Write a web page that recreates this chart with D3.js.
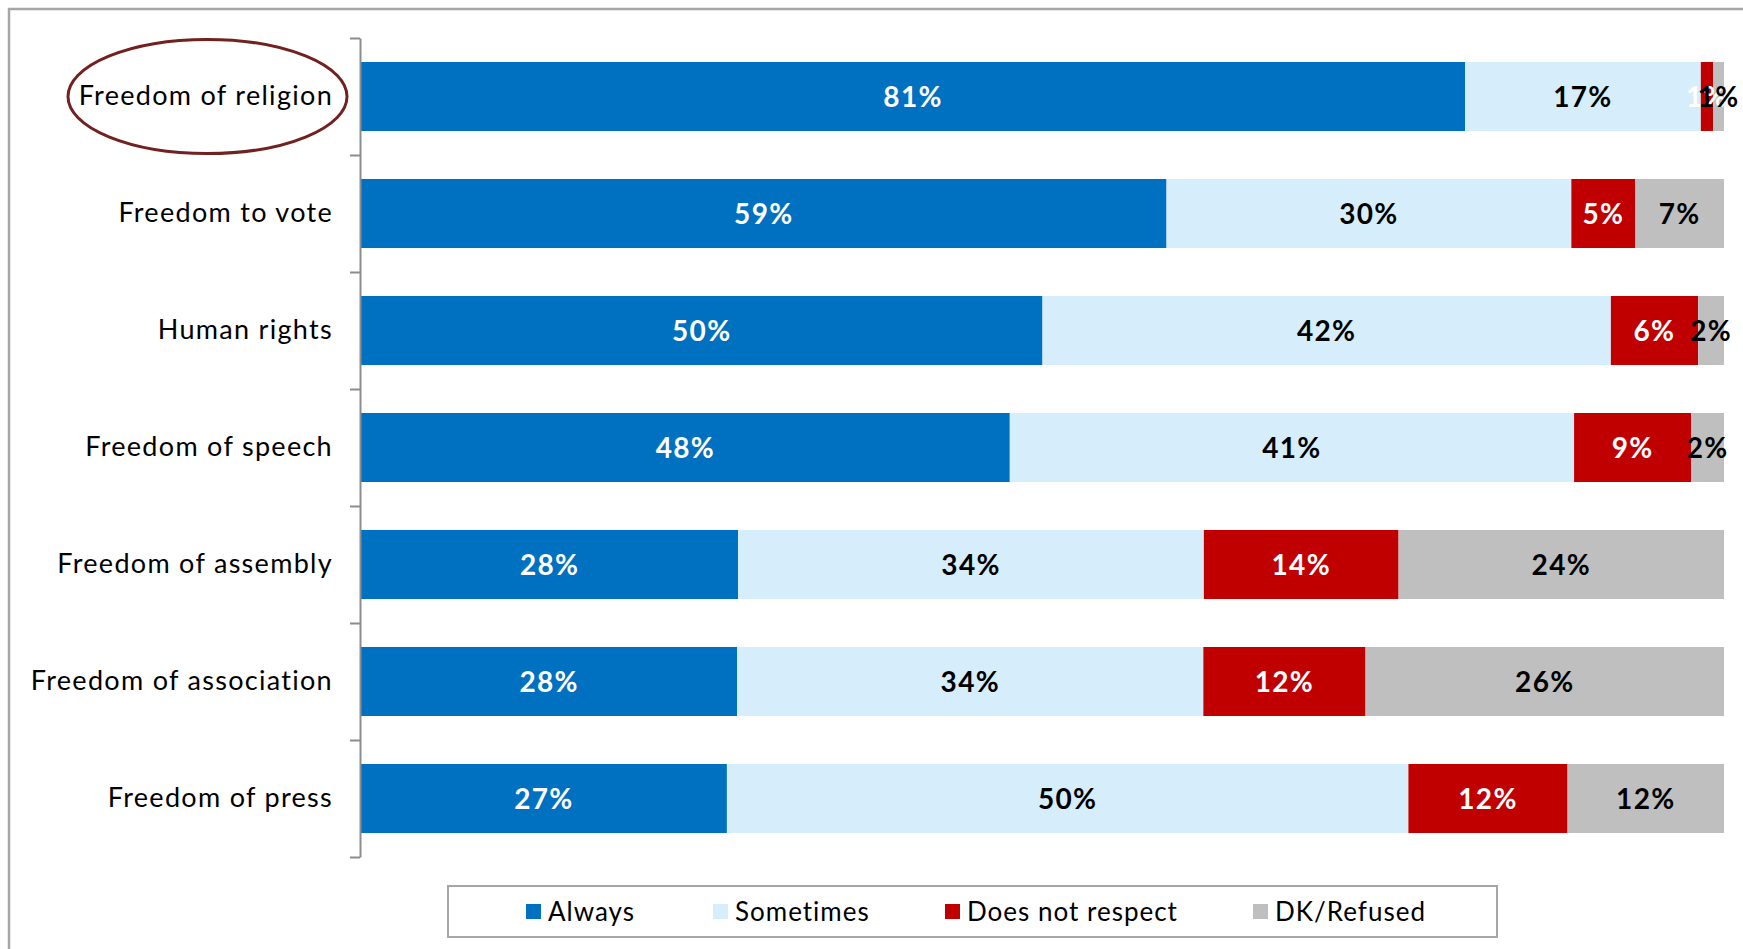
<!DOCTYPE html>
<html>
<head>
<meta charset="utf-8">
<script src="https://cdn.jsdelivr.net/npm/d3@7"></script>
<style>
  html, body { margin: 0; padding: 0; background: #ffffff; }
  svg { display: block; }
  text { font-family: Lato, "Open Sans", sans-serif; }
</style>
</head>
<body>
<svg id="chart" width="1743" height="949"></svg>
<script>
const categories = ["Freedom of religion", "Freedom to vote", "Human rights", "Freedom of speech", "Freedom of assembly", "Freedom of association", "Freedom of press"];
const seriesNames = ["Always", "Sometimes", "Does not respect", "DK/Refused"];
const always     = [81, 59.1, 50, 47.6, 27.7, 27.6, 26.9];
const sometimes  = [17.3, 29.7, 41.7, 41.4, 34.2, 34.2, 50.1];
const notRespect = [0.9, 4.7, 6.4, 8.6, 14.3, 11.9, 11.7];
const dkRefused  = [0.8, 6.5, 1.9, 2.4, 23.9, 26.3, 11.5];
const highlighted = "Freedom of religion";

const colors = ["#0070C0", "#D6EEFB", "#C00000", "#BFBFBF"];
const labelColors = ["#ffffff", "#000000", "#ffffff", "#000000"];

const rows = categories.map((c, i) => ({
  category: c,
  "Always": always[i],
  "Sometimes": sometimes[i],
  "Does not respect": notRespect[i],
  "DK/Refused": dkRefused[i]
}));

const svg = d3.select("#chart");

// outer frame (only top and left edges visible)
svg.append("rect")
  .attr("x", 9).attr("y", 9).attr("width", 3000).attr("height", 3000)
  .attr("fill", "none").attr("stroke", "#A6A6A6").attr("stroke-width", 2.5);

const x = d3.scaleLinear().domain([0, 1]).range([361, 1724]);
const y = d3.scaleBand().domain(categories).range([38, 857]).paddingInner(0.41).paddingOuter(0.205);

const stack = d3.stack().keys(seriesNames).offset(d3.stackOffsetExpand);
const stacked = stack(rows);

const groups = svg.append("g").selectAll("g")
  .data(stacked).join("g")
  .attr("fill", (d, i) => colors[i]);

groups.selectAll("rect")
  .data(d => d.map(v => ({ v, key: d.key })))
  .join("rect")
  .attr("x", d => x(d.v[0]))
  .attr("y", d => y(d.v.data.category))
  .attr("width", d => x(d.v[1]) - x(d.v[0]))
  .attr("height", y.bandwidth());

// value labels
const labelsG = svg.append("g");
stacked.forEach((s, si) => {
  labelsG.append("g").selectAll("text")
    .data(s).join("text")
    .attr("x", d => (x(d[0]) + x(d[1])) / 2)
    .attr("y", d => y(d.data.category) + y.bandwidth() / 2)
    .attr("dy", "0.36em")
    .attr("text-anchor", "middle")
    .attr("font-size", 28)
    .attr("font-weight", 700)
    .attr("letter-spacing", 1.3)
    .attr("fill", labelColors[si])
    .text(d => Math.round(d.data[s.key]) + "%");
});

// category axis: line with ticks at band boundaries
const boundary = d3.scaleLinear().domain([0, categories.length]).range([38, 857]);
const axisG = svg.append("g")
  .attr("transform", "translate(360,0)")
  .call(d3.axisLeft(boundary).tickValues(d3.range(categories.length + 1)).tickFormat("").tickSize(10).tickSizeOuter(0));
axisG.selectAll("path, line").attr("stroke", "#8C8C8C").attr("stroke-width", 2);

// category labels
const labelAxis = svg.append("g")
  .attr("transform", "translate(360,0)")
  .call(d3.axisLeft(y).tickSize(0).tickPadding(27));
labelAxis.select(".domain").remove();
labelAxis.selectAll("text")
  .attr("font-family", "Lato, 'Open Sans', sans-serif")
  .attr("font-size", 27)
  .attr("letter-spacing", 1.3)
  .attr("fill", "#000000");

// highlight ellipse
svg.append("ellipse")
  .attr("cx", 207.5)
  .attr("cy", y(highlighted) + y.bandwidth() / 2)
  .attr("rx", 139.5).attr("ry", 57)
  .attr("fill", "none").attr("stroke", "#722121").attr("stroke-width", 3);

// legend
const legend = svg.append("g");
legend.append("rect")
  .attr("x", 448).attr("y", 886).attr("width", 1049).attr("height", 51)
  .attr("fill", "#ffffff").attr("stroke", "#A6A6A6").attr("stroke-width", 2);
const legendX = [526, 713, 945, 1253];
const items = legend.selectAll("g.item").data(seriesNames).join("g").attr("class", "item")
  .attr("transform", (d, i) => `translate(${legendX[i]},911.5)`);
items.append("rect").attr("x", 0).attr("y", -7.5).attr("width", 15).attr("height", 15)
  .attr("fill", (d, i) => colors[i]);
items.append("text").attr("x", 22).attr("dy", "0.36em")
  .attr("font-size", 26).attr("letter-spacing", 1).attr("fill", "#000000").text(d => d);
</script>
</body>
</html>
